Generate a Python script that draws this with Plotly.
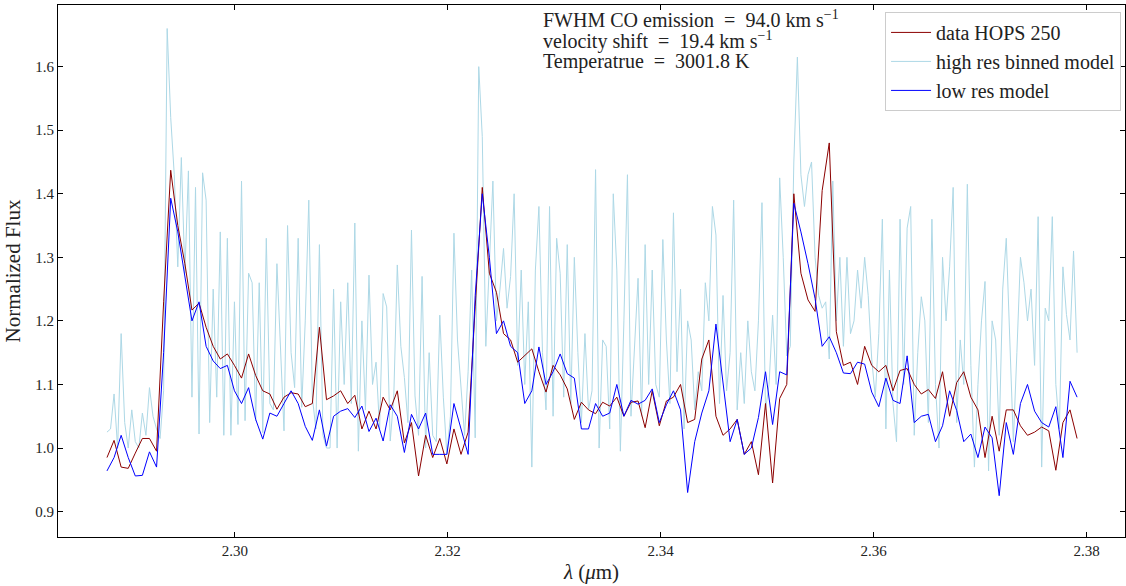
import numpy as np
import plotly.graph_objects as go

# wavelength sampling (micron)
wl_start, wl_end = 2.2880, 2.3791

# observed spectrum HOPS 250 (normalized flux)
data_flux = [
    0.985, 1.012, 0.970, 0.968, 0.992, 1.015, 1.015, 0.995, 1.230, 1.437,
    1.350, 1.290, 1.217, 1.228, 1.190, 1.160, 1.140, 1.148, 1.130, 1.110,
    1.148, 1.114, 1.090, 1.085, 1.061, 1.080, 1.087, 1.085, 1.065, 1.070,
    1.190, 1.076, 1.082, 1.090, 1.070, 1.083, 1.030, 1.058, 1.030, 1.080,
    1.060, 1.090, 1.008, 1.040, 0.956, 1.020, 0.985, 1.015, 0.975, 1.030,
    0.990, 1.025, 1.222, 1.410, 1.275, 1.245, 1.180, 1.170, 1.135, 1.145,
    1.156, 1.120, 1.088, 1.130, 1.115, 1.093, 1.045, 1.072, 1.060, 1.054,
    1.072, 1.066, 1.080, 1.050, 1.072, 1.074, 1.032, 1.090, 1.035, 1.074,
    1.080, 1.100, 1.040, 1.045, 1.140, 1.170, 1.050, 1.020, 1.030, 1.045,
    0.990, 1.010, 0.958, 1.070, 0.945, 1.078, 1.100, 1.400, 1.275, 1.233,
    1.215, 1.405, 1.480, 1.183, 1.130, 1.135, 1.100, 1.160, 1.130, 1.120,
    1.130, 1.090, 1.122, 1.125, 1.100, 1.085, 1.092, 1.078, 1.120, 1.050,
    1.103, 1.120, 1.080, 1.060, 0.985, 1.050, 0.995, 1.060, 1.060, 1.035,
    1.020, 1.025, 1.033, 1.027, 0.965, 1.040, 1.060, 1.015,
]

# low resolution model
lowres_flux = [
    0.964, 0.985, 1.020, 0.985, 0.956, 0.957, 0.994, 0.970, 1.150, 1.393,
    1.340, 1.270, 1.200, 1.230, 1.160, 1.137, 1.125, 1.130, 1.090, 1.070,
    1.095, 1.045, 1.014, 1.055, 1.050, 1.070, 1.090, 1.070, 1.034, 1.012,
    1.060, 1.003, 1.050, 1.058, 1.062, 1.048, 1.066, 1.026, 1.047, 1.011,
    1.068, 1.050, 0.993, 1.053, 1.030, 1.055, 0.990, 0.990, 0.990, 1.070,
    1.030, 0.990, 1.240, 1.400, 1.300, 1.180, 1.200, 1.160, 1.150, 1.070,
    1.090, 1.159, 1.100, 1.120, 1.148, 1.117, 1.110, 1.030, 1.030, 1.070,
    1.050, 1.055, 1.100, 1.050, 1.075, 1.069, 1.075, 1.093, 1.040, 1.068,
    1.090, 1.060, 0.930, 1.010, 1.055, 1.090, 1.195, 1.100, 1.010, 1.045,
    0.990, 1.000, 1.048, 1.120, 1.037, 1.120, 1.115, 1.385, 1.340, 1.290,
    1.235, 1.160, 1.175, 1.150, 1.118, 1.117, 1.135, 1.132, 1.088, 1.065,
    1.110, 1.075, 1.070, 1.145, 1.040, 1.050, 1.053, 1.010, 1.035, 1.090,
    1.059, 1.010, 1.022, 0.985, 1.033, 1.016, 0.925, 1.040, 0.990, 1.070,
    1.100, 1.058, 1.040, 1.033, 1.065, 0.985, 1.105, 1.080,
]

# high resolution model, binned
highres_flux = [
    1.025, 1.030, 1.085, 1.000, 1.180, 1.040, 1.000, 1.060, 1.010, 1.000,
    1.055, 1.020, 1.095, 1.050, 1.030, 1.015, 1.090, 1.660, 1.520, 1.430,
    1.285, 1.457, 1.275, 1.436, 1.080, 1.410, 1.022, 1.433, 1.390, 1.040,
    1.250, 1.080, 1.340, 1.020, 1.330, 1.020, 1.230, 1.037, 1.420, 1.043,
    1.275, 1.260, 1.043, 1.260, 1.024, 1.330, 1.070, 1.060, 1.290, 1.150,
    1.027, 1.350, 1.150, 1.095, 1.330, 1.064, 1.200, 1.390, 1.080, 1.030,
    1.320, 1.020, 1.000, 1.000, 1.250, 1.000, 1.230, 1.100, 1.260, 1.070,
    1.354, 0.995, 1.200, 1.060, 1.272, 1.100, 1.135, 1.030, 1.243, 1.222,
    1.011, 1.080, 1.288, 1.160, 1.111, 1.040, 1.343, 1.082, 1.020, 1.270,
    1.000, 1.150, 1.020, 1.010, 1.209, 1.080, 0.990, 1.050, 1.338, 1.170,
    1.100, 1.020, 1.120, 1.280, 1.016, 1.600, 1.490, 1.160, 1.290, 1.420,
    1.200, 1.250, 1.314, 1.220, 1.270, 1.400, 1.130, 1.280, 1.100, 1.230,
    0.970, 1.280, 1.380, 1.150, 1.060, 1.380, 1.050, 1.330, 1.275, 1.080,
    1.320, 1.070, 1.300, 1.150, 1.040, 1.180, 1.060, 1.090, 1.438, 1.000,
    1.170, 1.160, 1.030, 1.400, 1.280, 0.995, 1.200, 1.430, 1.050, 1.150,
    1.267, 1.050, 1.320, 1.100, 1.280, 1.100, 1.080, 1.328, 1.170, 1.070,
    1.370, 1.120, 1.250, 1.030, 1.200, 1.170, 1.060, 1.120, 1.090, 1.260,
    1.200, 1.380, 1.335, 1.070, 1.240, 1.090, 1.150, 1.390, 1.060, 1.150,
    1.070, 1.200, 1.120, 1.090, 1.200, 1.386, 1.060, 1.100, 1.209, 1.100,
    1.425, 1.300, 1.145, 1.160, 1.450, 1.615, 1.430, 1.380, 1.430, 1.450,
    1.300, 1.240, 1.220, 1.230, 1.140, 1.420, 1.200, 1.300, 1.160, 1.300,
    1.180, 1.200, 1.280, 1.220, 1.300, 1.240, 1.140, 1.080, 1.180, 1.360,
    1.030, 1.280, 1.070, 1.010, 1.360, 1.100, 1.346, 1.380, 1.020, 1.150,
    1.238, 1.200, 1.040, 1.360, 1.100, 1.000, 1.300, 1.200, 1.285, 1.410,
    1.040, 1.170, 1.100, 1.415, 1.130, 0.970, 1.100, 1.200, 1.262, 0.964,
    1.200, 1.170, 1.020, 1.250, 1.330, 1.170, 1.010, 1.150, 1.300, 1.260,
    1.200, 1.250, 1.130, 1.364, 0.970, 1.220, 1.200, 1.364, 1.100, 1.030,
    1.285, 1.210, 1.170, 1.310, 1.150,
]

wl_data = np.linspace(wl_start, wl_end, len(data_flux))
wl_low = np.linspace(wl_start, wl_end, len(lowres_flux))
wl_high = np.linspace(wl_start, wl_end, len(highres_flux))

info_lines = [
    "FWHM CO emission  =  94.0 km s<sup>\u22121</sup>",
    "velocity shift  =  19.4 km s<sup>\u22121</sup>",
    "Temperatrue  =  3001.8 K",
]

FONT = "Liberation Serif"

fig = go.Figure()
fig.add_trace(go.Scatter(x=wl_high, y=highres_flux, mode="lines",
                         line=dict(color="#ADD8E6", width=1),
                         name="high res binned model", legendrank=2))
fig.add_trace(go.Scatter(x=wl_data, y=data_flux, mode="lines",
                         line=dict(color="#8B0000", width=1),
                         name="data HOPS 250", legendrank=1))
fig.add_trace(go.Scatter(x=wl_low, y=lowres_flux, mode="lines",
                         line=dict(color="#0000FF", width=1),
                         name="low res model", legendrank=3))

axis_common = dict(showline=True, linecolor="black", linewidth=1,
                   mirror="allticks", ticks="inside", ticklen=5,
                   tickwidth=1, tickcolor="black", showgrid=False,
                   zeroline=False,
                   tickfont=dict(family=FONT, size=15, color="#222"))

fig.update_xaxes(range=[2.2834, 2.3836], dtick=0.02, tick0=2.30,
                 tickformat=".2f",
                 title=dict(text="<i>\u03bb</i> (<i>\u03bc</i>m)",
                            font=dict(family=FONT, size=21, color="#222"),
                            standoff=6),
                 **axis_common)
fig.update_yaxes(range=[0.860, 1.697], dtick=0.1, tick0=0.9, tickformat=".1f",
                 title=dict(text="Normalized Flux",
                            font=dict(family=FONT, size=21, color="#222"),
                            standoff=8),
                 **axis_common)

ys = [0.9737, 0.9342, 0.8947]
for txt, yy in zip(info_lines, ys):
    fig.add_annotation(text=txt, xref="paper", yref="paper", x=0.4527, y=yy,
                       xanchor="left", yanchor="middle", showarrow=False,
                       font=dict(family=FONT, size=20, color="#222"))

fig.update_layout(
    width=1126, height=586,
    margin=dict(l=58, r=1, t=5, b=49),
    plot_bgcolor="white", paper_bgcolor="white",
    font=dict(family=FONT, color="#222"),
    legend=dict(x=0.9963, y=0.987, xanchor="right", yanchor="top",
                bgcolor="rgba(255,255,255,0.8)", bordercolor="#cccccc",
                borderwidth=1, font=dict(family=FONT, size=20, color="#222"),
                itemwidth=40),
    showlegend=True,
)

fig.write_html("out.html")
